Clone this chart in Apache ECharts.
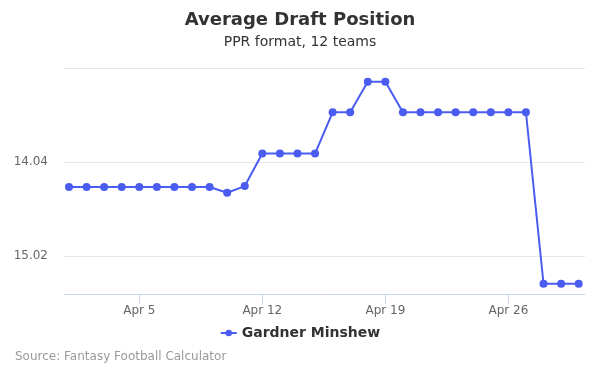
<!DOCTYPE html>
<html>
<head>
<meta charset="utf-8">
<script src="https://cdn.jsdelivr.net/npm/echarts@6/dist/echarts.min.js"></script>
<style>html,body{margin:0;padding:0;background:#fff}#c{width:600px;height:375px}</style>
</head>
<body>
<div id="c"></div>
<script>
var days = [1,2,3,4,5,6,7,8,9,10,11,12,13,14,15,16,17,18,19,20,21,22,23,24,25,26,27,28,29,30];
var adp = [14.30,14.30,14.30,14.30,14.30,14.30,14.30,14.30,14.30,14.36,14.29,13.95,13.95,13.95,13.95,13.52,13.52,13.20,13.20,13.52,13.52,13.52,13.52,13.52,13.52,13.52,13.52,15.31,15.31,15.31];
var xTickDays = [5,12,19,26];
var yTicks = [14.04, 15.02];
var seriesName = 'Gardner Minshew';

var chart = echarts.init(document.getElementById('c'));
var color = '#4b5cf0';
chart.setOption({
  animation: false,
  title: [
    {text: 'Average Draft Position', left: 'center', top: 6,
     textStyle: {fontFamily: 'DejaVu Sans', fontSize: 18, fontWeight: 'bold', color: '#333'}},
    {text: 'PPR format, 12 teams', left: 'center', top: 30,
     textStyle: {fontFamily: 'DejaVu Sans', fontSize: 14, fontWeight: 'normal', color: '#333'}},
    {text: 'Source: Fantasy Football Calculator', left: 10, top: 346,
     textStyle: {fontFamily: 'DejaVu Sans', fontSize: 12, fontWeight: 'normal', color: '#999'}}
  ],
  legend: {
    data: [seriesName], left: 'center', top: 321, itemWidth: 16, itemHeight: 8, itemGap: 5,
    textStyle: {fontFamily: 'DejaVu Sans', fontSize: 14, fontWeight: 'bold', color: '#333'}
  },
  grid: {left: 64, right: 15, top: 68.3, bottom: 375 - 294.3, containLabel: false},
  xAxis: {
    type: 'value', min: 0.716, max: 30.36,
    axisLine: {show: true, lineStyle: {color: '#ccd6eb'}},
    axisTick: {show: true, length: 10, lineStyle: {color: '#ccd6eb'}, customValues: xTickDays},
    axisLabel: {customValues: xTickDays, formatter: function (v) { return 'Apr ' + v; },
      color: '#666', fontFamily: 'DejaVu Sans', fontSize: 12, margin: 11},
    splitLine: {show: false}
  },
  yAxis: {
    type: 'value', inverse: true, min: 13.06, max: 15.42,
    axisLine: {show: false}, axisTick: {show: false},
    axisLabel: {customValues: yTicks, formatter: function (v) { return v.toFixed(2); },
      color: '#666', fontFamily: 'DejaVu Sans', fontSize: 12, margin: 16},
    splitLine: {show: true, lineStyle: {color: '#e6e6e6'}},
    interval: 0.98
  },
  series: [{
    name: seriesName, type: 'line',
    data: days.map(function (d, i) { return [d, adp[i]]; }),
    symbol: 'circle', symbolSize: 8,
    lineStyle: {color: color, width: 2},
    itemStyle: {color: color}
  }]
});
</script>
</body>
</html>
